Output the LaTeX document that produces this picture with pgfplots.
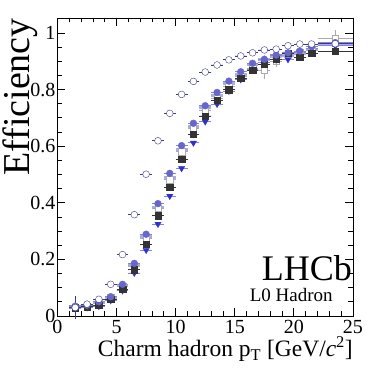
\documentclass[border=0pt]{standalone}
\usepackage{pgfplots}
\usepackage{pgfplotstable}
\pgfplotsset{compat=1.18}
\usepackage{fontspec}
\setmainfont{Liberation Serif}

\definecolor{cnavy}{HTML}{3A3A80}
\definecolor{cblack}{HTML}{333333}
\definecolor{cblue}{HTML}{6666CC}
\definecolor{cgrey}{HTML}{AAAAAA}
\definecolor{ctriup}{HTML}{7070D0}
\definecolor{ctridn}{HTML}{3030D0}
\definecolor{cband}{HTML}{A8ACE8}

% x y ex ey
\pgfplotstableread{
x y ex ey
1.5 0.030 0.5 0.040
2.5 0.042 0.5 0.008
3.5 0.059 0.5 0.008
4.5 0.112 0.5 0.008
5.5 0.217 0.5 0.008
6.5 0.358 0.5 0.008
7.5 0.501 0.5 0.008
8.5 0.619 0.5 0.008
9.5 0.716 0.5 0.008
10.5 0.783 0.5 0.008
11.5 0.829 0.5 0.008
12.5 0.862 0.5 0.008
13.5 0.887 0.5 0.008
14.5 0.905 0.5 0.008
15.5 0.919 0.5 0.008
16.5 0.930 0.5 0.008
17.5 0.940 0.5 0.008
18.5 0.943 0.5 0.008
19.5 0.955 0.5 0.008
20.5 0.961 0.5 0.008
21.5 0.961 0.5 0.008
23.5 0.962 1.5 0.008
}\opencirc
\pgfplotstableread{
x y ex ey
1.5 0.030 0.5 0.008
2.5 0.033 0.5 0.008
3.5 0.038 0.5 0.008
4.5 0.060 0.5 0.008
5.5 0.095 0.5 0.008
6.5 0.163 0.5 0.008
7.5 0.254 0.5 0.010
8.5 0.354 0.5 0.010
9.5 0.455 0.5 0.010
10.5 0.554 0.5 0.010
11.5 0.642 0.5 0.010
12.5 0.707 0.5 0.010
13.5 0.763 0.5 0.010
14.5 0.799 0.5 0.010
15.5 0.840 0.5 0.010
16.5 0.869 0.5 0.010
17.5 0.890 0.5 0.010
18.5 0.907 0.5 0.010
19.5 0.928 0.5 0.010
20.5 0.914 0.5 0.010
21.5 0.928 0.5 0.010
23.5 0.936 1.5 0.010
}\blacksq
\pgfplotstableread{
x y ex ey
1.5 0.035 0.5 0.008
2.5 0.038 0.5 0.008
3.5 0.050 0.5 0.008
4.5 0.068 0.5 0.008
5.5 0.112 0.5 0.008
6.5 0.186 0.5 0.008
7.5 0.289 0.5 0.008
8.5 0.397 0.5 0.008
9.5 0.504 0.5 0.008
10.5 0.602 0.5 0.008
11.5 0.681 0.5 0.008
12.5 0.743 0.5 0.008
13.5 0.790 0.5 0.008
14.5 0.830 0.5 0.008
15.5 0.863 0.5 0.008
16.5 0.893 0.5 0.008
17.5 0.907 0.5 0.008
18.5 0.922 0.5 0.008
19.5 0.930 0.5 0.008
20.5 0.936 0.5 0.008
21.5 0.952 0.5 0.008
23.5 0.966 1.5 0.008
}\bluecirc
\pgfplotstableread{
x y ex ey
1.5 0.030 0.5 0.040
2.5 0.035 0.5 0.010
3.5 0.045 0.5 0.010
4.5 0.065 0.5 0.010
5.5 0.105 0.5 0.010
6.5 0.178 0.5 0.010
7.5 0.275 0.5 0.012
8.5 0.381 0.5 0.012
9.5 0.481 0.5 0.012
10.5 0.581 0.5 0.012
11.5 0.663 0.5 0.012
12.5 0.728 0.5 0.012
13.5 0.769 0.5 0.012
14.5 0.810 0.5 0.012
15.5 0.845 0.5 0.015
16.5 0.875 0.5 0.015
17.5 0.869 0.5 0.030
18.5 0.900 0.5 0.020
19.5 0.920 0.5 0.020
20.5 0.930 0.5 0.020
21.5 0.940 0.5 0.020
23.5 0.981 1.5 0.030
}\greysq
\pgfplotstableread{
x y ex ey
1.5 0.033 0.5 0.008
2.5 0.036 0.5 0.008
3.5 0.048 0.5 0.008
4.5 0.066 0.5 0.008
5.5 0.108 0.5 0.008
6.5 0.180 0.5 0.008
7.5 0.280 0.5 0.008
8.5 0.385 0.5 0.008
9.5 0.490 0.5 0.008
10.5 0.590 0.5 0.008
11.5 0.670 0.5 0.008
12.5 0.735 0.5 0.008
13.5 0.778 0.5 0.008
14.5 0.820 0.5 0.008
15.5 0.855 0.5 0.008
16.5 0.887 0.5 0.008
17.5 0.907 0.5 0.008
18.5 0.916 0.5 0.008
19.5 0.919 0.5 0.012
20.5 0.928 0.5 0.010
21.5 0.940 0.5 0.010
23.5 0.958 1.5 0.010
}\triup
\pgfplotstableread{
x y ex ey
1.5 0.028 0.5 0.008
2.5 0.030 0.5 0.008
3.5 0.035 0.5 0.008
4.5 0.055 0.5 0.008
5.5 0.090 0.5 0.008
6.5 0.152 0.5 0.008
7.5 0.233 0.5 0.008
8.5 0.325 0.5 0.008
9.5 0.424 0.5 0.008
10.5 0.522 0.5 0.008
11.5 0.612 0.5 0.008
12.5 0.687 0.5 0.008
13.5 0.749 0.5 0.008
14.5 0.795 0.5 0.008
15.5 0.836 0.5 0.008
16.5 0.870 0.5 0.008
17.5 0.895 0.5 0.008
18.5 0.905 0.5 0.008
19.5 0.907 0.5 0.010
20.5 0.930 0.5 0.010
21.5 0.945 0.5 0.010
23.5 0.955 1.5 0.010
}\tridn

\begin{document}
\begin{tikzpicture}
\path[use as bounding box] (-57.5pt,-56pt) rectangle (326.5pt,316pt);
\begin{axis}[
  scale only axis,
  width=295.5pt, height=298pt,
  at={(0,0)}, anchor=origin,
  xmin=0, xmax=25, ymin=0, ymax=1.053,
  xtick={0,5,10,15,20,25},
  xticklabels={0,5,10,15,20,25},
  ytick={0,0.2,0.4,0.6,0.8,1},
  yticklabels={0,0.2,0.4,0.6,0.8,1},
  minor x tick num=4,
  minor y tick num=3,
  tick align=inside,
  major tick length=8pt,
  minor tick length=4.5pt,
  axis line style={line width=0.9pt, black},
  every tick/.style={line width=0.8pt, black},
  /pgf/number format/assume math mode=true,
  ticklabel style={font=\rmfamily\fontsize{20}{22}\selectfont},
  xticklabel style={inner sep=1pt, yshift=-3pt},
  yticklabel style={inner sep=1pt, xshift=-1pt},
  xlabel={Charm hadron p\textsubscript{T} [GeV/\textit{c}\textsuperscript{2}]},
  xlabel style={font=\rmfamily\fontsize{23.5}{25}\selectfont, at={(axis description cs:1,-0.1366)}, anchor=base east, inner sep=0pt},
  ylabel={Efficiency},
  ylabel style={font=\rmfamily\fontsize{38}{40}\selectfont, at={(axis description cs:-0.0931,1)}, anchor=base east, inner sep=0pt},
  clip=false,
  error bars/x dir=both, error bars/x explicit,
  error bars/y dir=both, error bars/y explicit,
  error bars/error mark=none,
]
% tri up (light blue bands)
\addplot[only marks, mark=triangle*, mark size=3.6pt, color=ctriup, fill=ctriup,
  error bars/error bar style={line width=3pt, color=cband}]
  table[x=x, y=y, x error=ex, y error=ey] {\triup};
% grey open squares
\addplot[only marks, mark=square*, mark size=3.2pt, draw=cgrey, fill=white,
  error bars/error bar style={line width=0.8pt, color=cgrey}]
  table[x=x, y=y, x error=ex, y error=ey] {\greysq};
% tri down
\addplot[only marks, mark=triangle*, mark size=3.6pt, color=ctridn, fill=ctridn,
  every mark/.append style={rotate=180},
  error bars/error bar style={line width=0.8pt, color=ctridn!60}]
  table[x=x, y=y, x error=ex, y error=ey] {\tridn};
% black squares
\addplot[only marks, mark=square*, mark size=3.2pt, color=cblack, fill=cblack,
  error bars/error bar style={line width=0.8pt, color=cblack}]
  table[x=x, y=y, x error=ex, y error=ey] {\blacksq};
% blue filled circles
\addplot[only marks, mark=*, mark size=3.4pt, color=cblue, fill=cblue,
  error bars/error bar style={line width=1.2pt, color=cblue!80}]
  table[x=x, y=y, x error=ex, y error=ey] {\bluecirc};
% open circles
\addplot[only marks, mark=*, mark size=3.4pt, draw=cnavy, fill=white,
  error bars/error bar style={line width=0.8pt, color=cnavy}]
  table[x=x, y=y, x error=ex, y error=ey] {\opencirc};
\node[anchor=base east, font=\rmfamily\fontsize{36}{38}\selectfont, inner sep=0pt] at (axis cs:24.92,0.124) {LHCb};
\node[anchor=base east, font=\rmfamily\fontsize{19}{21}\selectfont, inner sep=0pt] at (axis cs:23.3,0.052) {L0 Hadron};
\end{axis}
\end{tikzpicture}
\end{document}
